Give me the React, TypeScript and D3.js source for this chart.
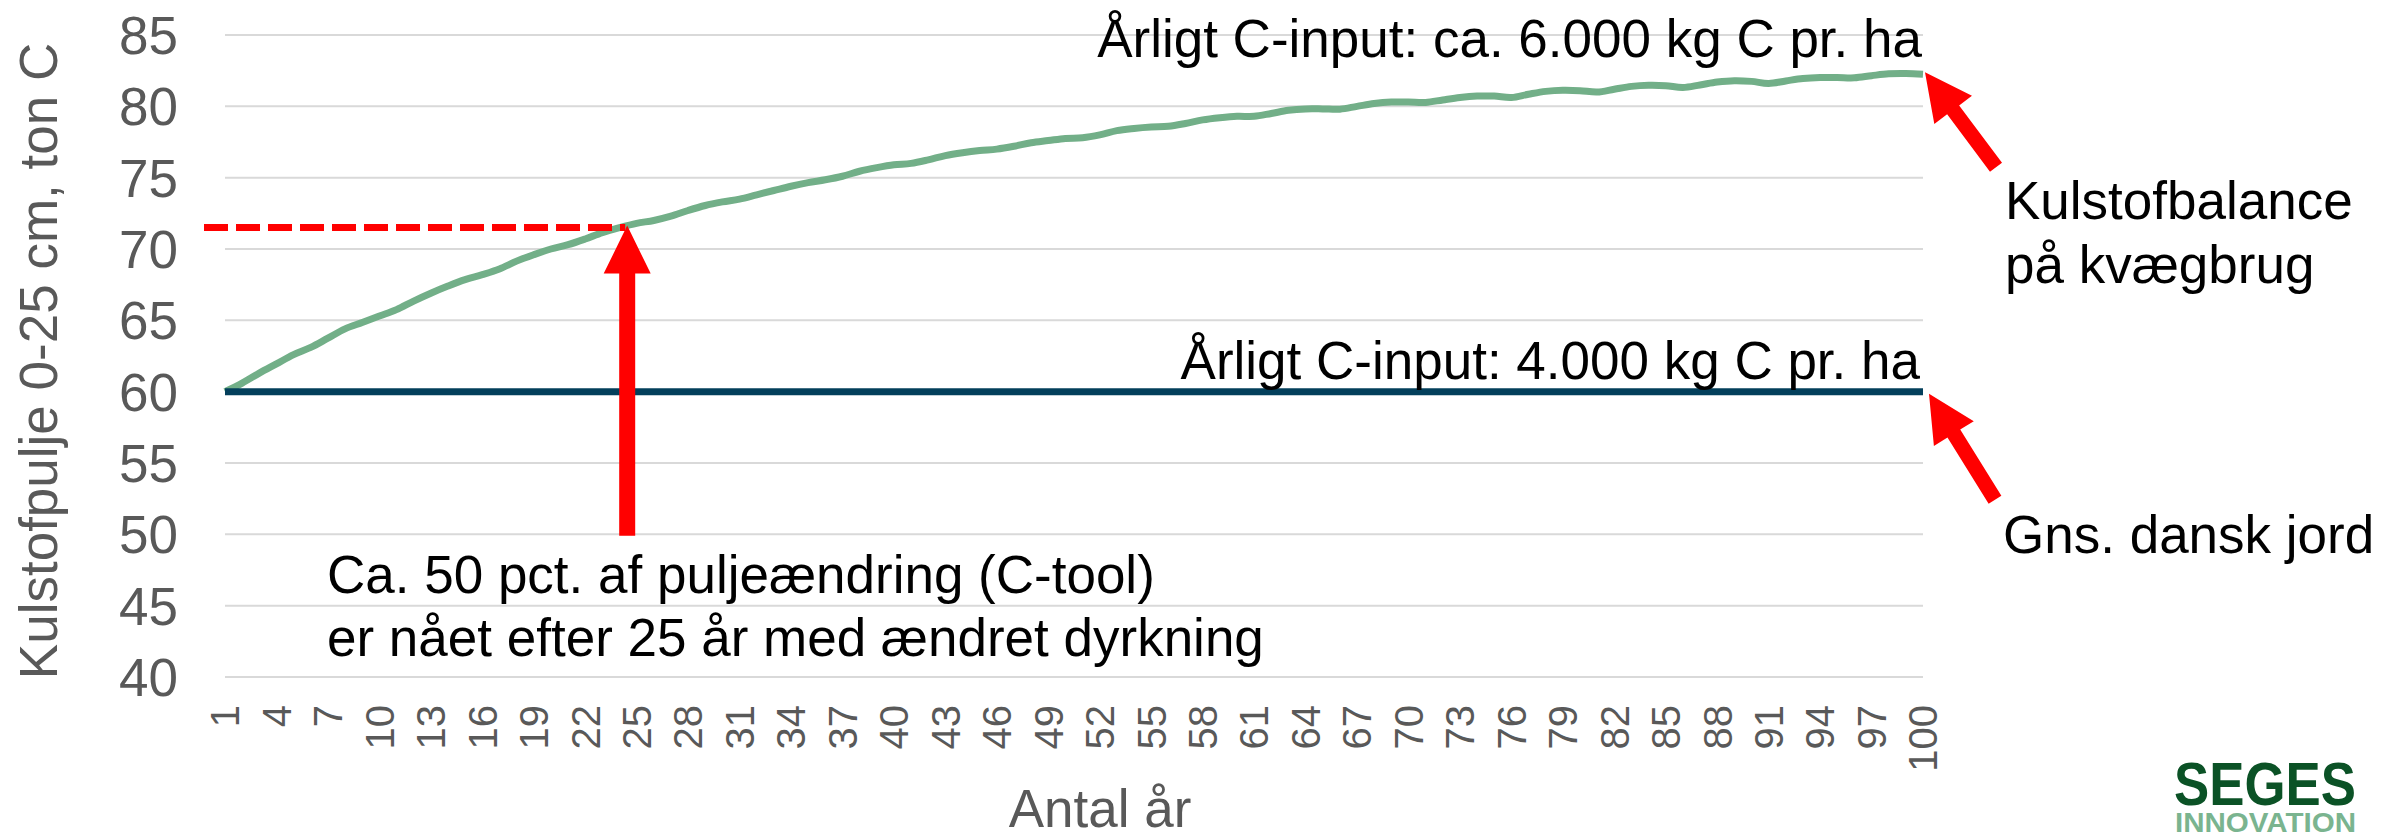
import React from "react";
import * as d3 from "d3";

// ---- data ----
const years: number[] = Array.from({ length: 100 }, (_, i) => i + 1);
const pool6000: number[] = [
  60.0, 60.6, 61.3, 61.95, 62.6, 63.1, 63.75, 64.4, 64.85, 65.3,
  65.75, 66.35, 66.9, 67.4, 67.85, 68.2, 68.6, 69.15, 69.6, 70.0,
  70.3, 70.7, 71.15, 71.5, 71.8, 72.0, 72.3, 72.7, 73.05, 73.3,
  73.5, 73.8, 74.1, 74.4, 74.65, 74.85, 75.1, 75.45, 75.7, 75.9,
  76.0, 76.25, 76.55, 76.75, 76.9, 77.0, 77.2, 77.45, 77.6, 77.75,
  77.8, 78.0, 78.3, 78.45, 78.55, 78.6, 78.8, 79.05, 79.2, 79.3,
  79.3, 79.5, 79.72, 79.82, 79.82, 79.8, 80.0, 80.2, 80.3, 80.3,
  80.27, 80.45, 80.62, 80.72, 80.72, 80.62, 80.85, 81.05, 81.13, 81.1,
  81.0, 81.2, 81.4, 81.48, 81.45, 81.32, 81.5, 81.7, 81.8, 81.75,
  81.6, 81.78, 81.95, 82.02, 82.02, 82.0, 82.15, 82.28, 82.3, 82.25,
];
const pool4000: number[] = years.map(() => 60);
const yTicks: number[] = [40, 45, 50, 55, 60, 65, 70, 75, 80, 85];
const xTickLabels: number[] = years.filter((y) => (y - 1) % 3 === 0);
const halfwayValue = 71.5;
const halfwayYear = 24.45;
const arrowBottomValue = 49.9;

const labelTop = "Årligt C-input: ca. 6.000 kg C pr. ha";
const labelBottom = "Årligt C-input: 4.000 kg C pr. ha";
const noteLines = ["Ca. 50 pct. af puljeændring (C-tool)", "er nået efter 25 år med ændret dyrkning"];
const sideTop = ["Kulstofbalance", "på kvægbrug"];
const sideBottom = "Gns. dansk jord";
const yTitle = "Kulstofpulje 0-25 cm, ton C";
const xTitle = "Antal år";

// ---- layout ----
const W = 2402;
const H = 839;
const plotLeft = 225;
const plotRight = 1923;
const plotTop = 35;
const plotBottom = 677;
const FONT = "Arial, 'Liberation Sans', sans-serif";
const GREEN = "#72AF88";
const NAVY = "#033F5B";
const RED = "#FF0000";
const GRAY = "#595959";

function arrowPoly(tx: number, ty: number, sx: number, sy: number, headLen: number, headW: number, shaftW: number) {
  const dx = sx - tx, dy = sy - ty;
  const L = Math.hypot(dx, dy);
  const ux = dx / L, uy = dy / L;
  const nx = -uy, ny = ux;
  const bx = tx + ux * headLen, by = ty + uy * headLen;
  const pts = [
    [tx, ty],
    [bx + nx * headW / 2, by + ny * headW / 2],
    [bx + nx * shaftW / 2, by + ny * shaftW / 2],
    [sx + nx * shaftW / 2, sy + ny * shaftW / 2],
    [sx - nx * shaftW / 2, sy - ny * shaftW / 2],
    [bx - nx * shaftW / 2, by - ny * shaftW / 2],
    [bx - nx * headW / 2, by - ny * headW / 2],
  ];
  return pts.map((p) => p.join(",")).join(" ");
}

export default function App() {
  const x = d3.scaleLinear().domain([1, 100]).range([plotLeft, plotRight]);
  const y = d3.scaleLinear().domain([40, 85]).range([plotBottom, plotTop]);

  const line = d3
    .line<number>()
    .x((_, i) => x(years[i]))
    .y((d) => y(d))
    .curve(d3.curveCatmullRom.alpha(0.5));

  const greenEndX = x(years[years.length - 1]);
  const greenEndY = y(pool6000[pool6000.length - 1]);
  const navyEndY = y(pool4000[pool4000.length - 1]);
  const ax = x(halfwayYear);
  const ay = y(halfwayValue);

  return (
    <svg
      width={W}
      height={H}
      style={{ position: "absolute", left: 0, top: 0, background: "#fff" }}
      fontFamily={FONT}
    >
      <rect x={0} y={0} width={W} height={H} fill="#fff" />
      {/* gridlines */}
      {yTicks.map((t) => (
        <line key={"g" + t} x1={plotLeft} x2={plotRight} y1={y(t)} y2={y(t)} stroke="#D9D9D9" strokeWidth={2} />
      ))}
      {/* y tick labels */}
      {yTicks.map((t) => (
        <text key={"yt" + t} x={178} y={y(t)} dy="0.36em" textAnchor="end" fontSize={53} fill={GRAY}>
          {t}
        </text>
      ))}
      {/* y title */}
      <text transform={`translate(57,${(plotTop + plotBottom) / 2 + 5}) rotate(-90)`} textAnchor="middle" fontSize={53} fill={GRAY}>
        {yTitle}
      </text>
      {/* x tick labels */}
      {xTickLabels.map((t) => (
        <text
          key={"xt" + t}
          transform={`translate(${x(t)},705) rotate(-90)`}
          textAnchor="end"
          dy="0.36em"
          fontSize={40}
          fill={GRAY}
        >
          {t}
        </text>
      ))}
      {/* x title */}
      <text x={1100} y={827} textAnchor="middle" fontSize={53} fill={GRAY}>
        {xTitle}
      </text>

      {/* series */}
      <path d={line(pool6000) || ""} fill="none" stroke={GREEN} strokeWidth={7} />
      <path d={line(pool4000) || ""} fill="none" stroke={NAVY} strokeWidth={7} />

      {/* red dashed line */}
      <line x1={x(1) - 21} x2={ax - 2} y1={ay} y2={ay} stroke={RED} strokeWidth={7} strokeDasharray="24 8" />
      {/* vertical arrow */}
      <polygon points={arrowPoly(ax, ay - 2, ax, y(arrowBottomValue), 48, 47, 16)} fill={RED} />
      {/* diagonal arrows */}
      <polygon points={arrowPoly(greenEndX + 2, greenEndY - 2, greenEndX + 73, greenEndY + 93, 47, 47, 15)} fill={RED} />
      <polygon points={arrowPoly(greenEndX + 6, navyEndY + 2, greenEndX + 72, navyEndY + 108, 47, 47, 15)} fill={RED} />

      {/* annotations */}
      <text x={1922} y={57} textAnchor="end" fontSize={53} fill="#000">{labelTop}</text>
      <text x={1920} y={379} textAnchor="end" fontSize={53} fill="#000">{labelBottom}</text>
      <text x={2005} y={219} fontSize={53} fill="#000">{sideTop[0]}</text>
      <text x={2005} y={283} fontSize={53} fill="#000">{sideTop[1]}</text>
      <text x={2003} y={553} fontSize={53} fill="#000">{sideBottom}</text>
      <text x={327} y={593} fontSize={53} fill="#000">{noteLines[0]}</text>
      <text x={327} y={656} fontSize={53} fill="#000">{noteLines[1]}</text>

      {/* logo */}
      <text x={2174} y={805} fontSize={62} fontWeight="bold" fill="#0B5226" textLength={182} lengthAdjust="spacingAndGlyphs">
        SEGES
      </text>
      <text x={2175} y={832} fontSize={27} fontWeight="bold" fill="#7AB48F" textLength={181} lengthAdjust="spacingAndGlyphs">
        INNOVATION
      </text>
    </svg>
  );
}
